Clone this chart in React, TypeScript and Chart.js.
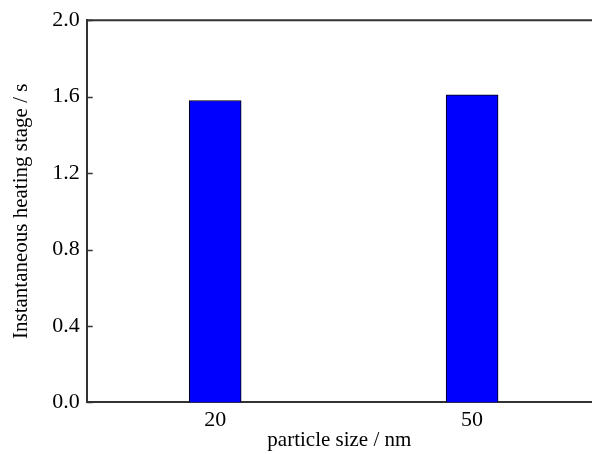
import React, { useEffect, useRef } from "react";
import { Chart, registerables } from "chart.js";

Chart.register(...registerables);

const sizes = [20, 50];
const sizeLabels = ["20", "50"];
const heatingTimes = [1.58, 1.61];
const yTicks = [0, 0.4, 0.8, 1.2, 1.6, 2.0];

const FONT = "'Liberation Serif', 'Times New Roman', serif";

const framePlugin = {
  id: "frame",
  afterDraw(chart: any) {
    const { ctx, chartArea } = chart;
    const y = chart.scales.y;
    ctx.save();
    ctx.strokeStyle = "#333";
    ctx.lineWidth = 2;
    ctx.beginPath();
    ctx.moveTo(chartArea.left, chartArea.top);
    ctx.lineTo(chartArea.right, chartArea.top);
    ctx.stroke();
    ctx.lineWidth = 1.5;
    yTicks.forEach((v) => {
      const py = Math.round(y.getPixelForValue(v)) + 0.5;
      ctx.beginPath();
      ctx.moveTo(chartArea.left, py);
      ctx.lineTo(chartArea.left + 6, py);
      ctx.stroke();
    });
    ctx.restore();
  },
};

export default function App() {
  const ref = useRef<HTMLCanvasElement>(null);
  useEffect(() => {
    document.body.style.margin = "0";
    const chart = new Chart(ref.current!, {
      type: "bar",
      data: {
        datasets: [
          {
            data: sizes.map((s, i) => ({ x: s, y: heatingTimes[i] })),
            backgroundColor: "#0000ff",
            borderColor: "#000",
            borderWidth: 1,
            barThickness: 52,
          },
        ],
      },
      options: {
        animation: false,
        responsive: false,
        layout: { padding: { top: 18, right: 0, left: 9, bottom: 1 } },
        plugins: { legend: { display: false }, tooltip: { enabled: false } },
        scales: {
          x: {
            type: "linear",
            min: 5,
            max: 64,
            offset: false,
            afterBuildTicks: (scale: any) => {
              scale.ticks = sizes.map((v) => ({ value: v }));
            },
            ticks: {
              callback: (v: any) => {
                const i = sizes.indexOf(Number(v));
                return i >= 0 ? sizeLabels[i] : "";
              },
              color: "#000",
              font: { family: FONT, size: 22 },
              padding: 5,
              maxRotation: 0,
            },
            grid: { display: false, drawTicks: false, offset: false },
            border: { display: true, color: "#333", width: 2 },
            title: {
              display: true,
              text: "particle size / nm",
              color: "#000",
              font: { family: FONT, size: 21 },
              padding: { top: -11, bottom: 0 },
            },
          },
          y: {
            min: 0,
            max: 2.0,
            afterBuildTicks: (scale: any) => {
              scale.ticks = yTicks.map((v) => ({ value: v }));
            },
            ticks: {
              callback: (v: any) => Number(v).toFixed(1),
              color: "#000",
              font: { family: FONT, size: 22 },
              padding: 7,
            },
            grid: { display: false, drawTicks: false },
            border: { display: true, color: "#333", width: 2 },
            title: {
              display: true,
              text: "Instantaneous heating stage / s",
              color: "#000",
              font: { family: FONT, size: 21 },
              padding: { top: 0, bottom: 11 },
            },
          },
        },
      },
      plugins: [framePlugin],
    });
    return () => chart.destroy();
  }, []);
  return (
    <div style={{ width: 592, height: 454, background: "#fff" }}>
      <canvas ref={ref} width={592} height={454} style={{ display: "block" }} />
    </div>
  );
}
